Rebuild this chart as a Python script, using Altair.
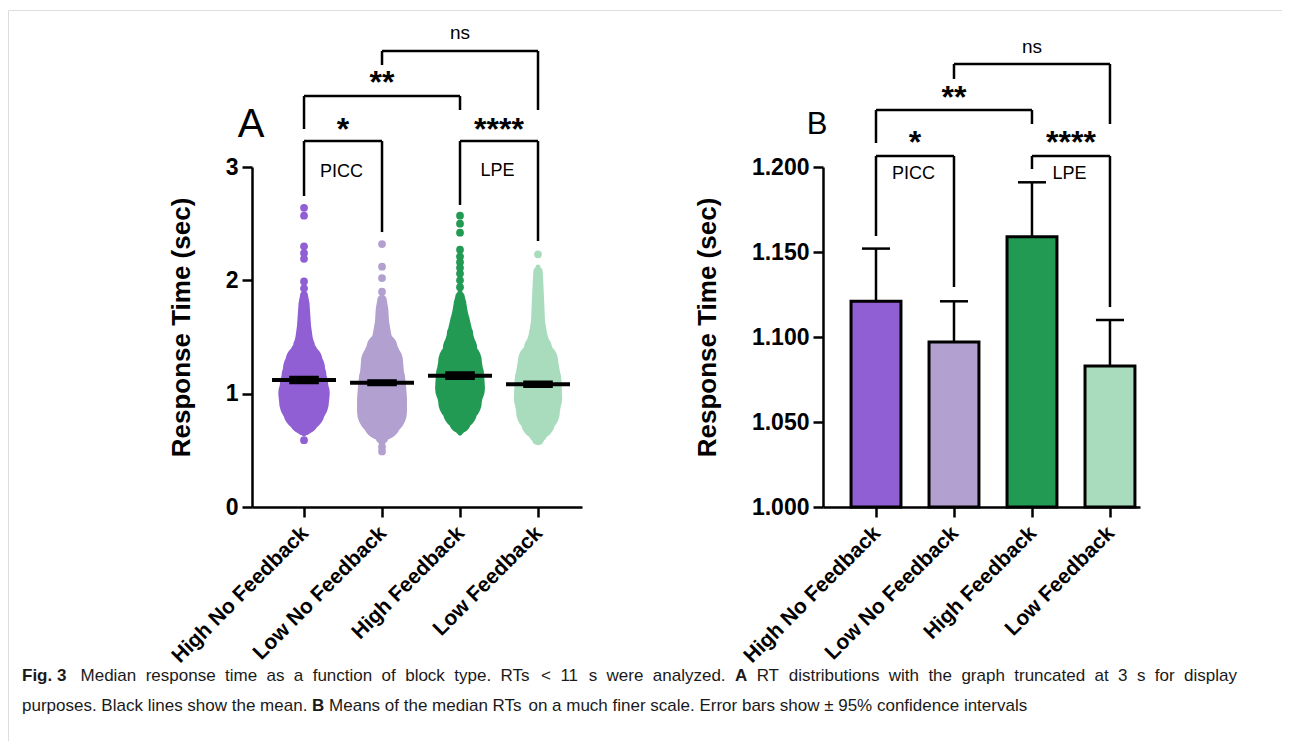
import json
import altair as alt
import pandas as pd

# ---------------- data ----------------
categories = ["High No Feedback", "Low No Feedback", "High Feedback", "Low Feedback"]
colors = ["#8F5FD3", "#B2A0D0", "#229A54", "#A8DCBC"]
means = [1.121, 1.097, 1.159, 1.083]          # mean of median RTs (s)
ci95 = [0.031, 0.024, 0.032, 0.027]            # half-width of 95% CI (s)

# beeswarm silhouettes (RT in s, half-width in category units)
prof_y = [
    [0.645, 0.67, 0.72, 0.78, 0.85, 0.93, 1.0, 1.08, 1.15, 1.22, 1.28, 1.35, 1.42, 1.50, 1.60, 1.70, 1.80, 1.87, 1.90],
    [0.56, 0.58, 0.62, 0.69, 0.76, 0.84, 0.96, 1.05, 1.12, 1.20, 1.28, 1.34, 1.40, 1.47, 1.52, 1.64, 1.75, 1.83, 1.86],
    [0.65, 0.68, 0.75, 0.84, 0.93, 1.05, 1.16, 1.28, 1.40, 1.52, 1.64, 1.72, 1.80, 1.86, 1.90],
    [0.57, 0.60, 0.66, 0.75, 0.84, 0.96, 1.12, 1.28, 1.40, 1.52, 1.64, 1.80, 1.95, 2.08, 2.12],
]
prof_w = [
    [0.03, 0.06, 0.13, 0.20, 0.27, 0.32, 0.33, 0.31, 0.29, 0.27, 0.24, 0.18, 0.14, 0.11, 0.09, 0.08, 0.07, 0.05, 0.03],
    [0.02, 0.05, 0.09, 0.15, 0.25, 0.32, 0.32, 0.31, 0.30, 0.28, 0.27, 0.23, 0.20, 0.14, 0.12, 0.09, 0.08, 0.06, 0.03],
    [0.03, 0.06, 0.14, 0.22, 0.28, 0.32, 0.31, 0.28, 0.22, 0.17, 0.13, 0.10, 0.08, 0.06, 0.03],
    [0.03, 0.08, 0.13, 0.22, 0.28, 0.31, 0.30, 0.26, 0.18, 0.12, 0.09, 0.08, 0.07, 0.06, 0.03],
]
# isolated points outside the dense part
outliers = [
    [0.59, 1.93, 1.99, 2.19, 2.24, 2.30, 2.57, 2.64],
    [0.49, 0.53, 1.90, 2.02, 2.12, 2.32],
    [1.94, 2.00, 2.06, 2.11, 2.16, 2.21, 2.27, 2.42, 2.50, 2.57],
    [2.23],
]

# significance brackets (category indices and heights in each panel's units)
br_x1 = [1, 3, 1, 2]
br_x2 = [2, 4, 3, 4]
br_A_top = [3.229, 3.229, 3.626, 4.024]
br_A_left = [2.744, 2.665, 3.335, 3.900]
br_A_right = [2.426, 2.347, 3.503, 3.503]
br_B_top = [1.2065, 1.2065, 1.2335, 1.2606]
br_B_left = [1.1594, 1.1988, 1.2141, 1.2518]
br_B_right = [1.1294, 1.1176, 1.2253, 1.2253]

sig_text = ["*", "****", "**"]
sig_x = [1.5, 3.5, 2.0]
sig_A_y = [3.353, 3.353, 3.768]
sig_B_y = [1.2159, 1.2159, 1.2424]
ns_x = [3.0]
ns_A_y = [4.182]
ns_B_y = [1.2706]
tag_text = ["PICC", "LPE"]
tag_x = [1.48, 3.48]
tag_A_y = [2.956, 2.965]
tag_B_y = [1.1959, 1.1959]

caption_l1 = [("Fig. 3", "bold"),
              ("Median response time as a function of block type. RTs < 11 s were analyzed.", "normal"),
              ("A", "bold"),
              ("RT distributions with the graph truncated at 3 s for display", "normal")]
caption_l2 = [("purposes. Black lines show the mean.", "normal"),
              ("B", "bold"),
              ("Means of the median RTs on a much finer scale. Error bars show \u00b1 95% confidence intervals", "normal")]

# ---------------- layout ----------------
W, H = 1274, 731
Y_RANGE = [497, 157]
A_X = dict(domain=[0.333, 4.564], range=[244, 574])
B_X = dict(domain=[0.3205, 4.385], range=[815, 1132])
A_Y = dict(domain=[0, 3], range=Y_RANGE)
B_Y = dict(domain=[1.0, 1.2], range=Y_RANGE)
FONT = "Liberation Sans"
PX_PER_UNIT_A = (A_X["range"][1] - A_X["range"][0]) / (A_X["domain"][1] - A_X["domain"][0])

label_expr = json.dumps(categories) + "[datum.value - 1]"

common_axis = dict(domainColor="black", domainWidth=2.5, tickColor="black", tickWidth=2.5,
                   labelColor="black", labelFont=FONT, labelFontWeight="bold",
                   titleFont=FONT, titleFontWeight="bold", titleColor="black",
                   grid=False, labelFlush=False, labelOverlap=False)


def x_axis():
    return alt.Axis(orient="bottom", offset=Y_RANGE[0] - H, values=[1, 2, 3, 4], labelExpr=label_expr,
                    labelAngle=-45, labelFontSize=21, labelPadding=5, labelOffset=-7, labelLimit=0,
                    tickSize=10, title=None, **common_axis)


def y_axis(off, vals, fmt):
    return alt.Axis(orient="left", offset=-off, values=vals, format=fmt, labelFontSize=23,
                    labelPadding=4, tickSize=10, title="Response Time (sec)", titleFontSize=26,
                    titlePadding=31, titleY=317, minExtent=0, **common_axis)


def make_enc(xs, ys, yoff, yvals, yfmt):
    sx = alt.Scale(domain=xs["domain"], range=xs["range"])
    sy = alt.Scale(domain=ys["domain"], range=ys["range"], zero=False)

    def X(f, **kw):
        return alt.X(f, type="quantitative", scale=sx, axis=x_axis(), **kw)

    def Y(f, **kw):
        return alt.Y(f, type="quantitative", scale=sy, axis=y_axis(yoff, yvals, yfmt), **kw)
    return X, Y


XA, YA = make_enc(A_X, A_Y, A_X["range"][0], [0, 1, 2, 3], "d")
XB, YB = make_enc(B_X, B_Y, B_X["range"][0], [1.0, 1.05, 1.1, 1.15, 1.2], ".3f")

# ---------------- tables ----------------
vrows = []
for i in range(4):
    for yv, w in zip(prof_y[i], prof_w[i]):
        vrows.append(dict(grp=categories[i], c=i + 1, y=yv, wpx=2 * w * PX_PER_UNIT_A, color=colors[i]))
violin = pd.DataFrame(vrows)

prow = []
for i in range(4):
    for yv in outliers[i]:
        prow.append(dict(grp=categories[i], x=i + 1, y=yv, color=colors[i]))
pts = pd.DataFrame(prow)

stats = pd.DataFrame(dict(grp=categories, c=[1, 2, 3, 4], m=means, ci=ci95, color=colors))
stats["lo_mean"] = stats.c - 0.41
stats["hi_mean"] = stats.c + 0.41
stats["lo_cap"] = stats.c - 0.18
stats["hi_cap"] = stats.c + 0.18
stats["lo_bar"] = stats.c - 0.32
stats["hi_bar"] = stats.c + 0.32
stats["ci_lo"] = stats.m - stats.ci
stats["ci_hi"] = stats.m + stats.ci
stats["base"] = B_Y["domain"][0]

brA = pd.DataFrame(dict(x1=br_x1, x2=br_x2, top=br_A_top, left=br_A_left, right=br_A_right))
brB = pd.DataFrame(dict(x1=br_x1, x2=br_x2, top=br_B_top, left=br_B_left, right=br_B_right))


def brackets(df, X, Y):
    base = alt.Chart(df)
    h = base.mark_rule(color="black", strokeWidth=2.5).encode(x=X("x1"), x2="x2", y=Y("top"))
    l = base.mark_rule(color="black", strokeWidth=2.5).encode(x=X("x1"), y=Y("left"), y2="top")
    r = base.mark_rule(color="black", strokeWidth=2.5).encode(x=X("x2"), y=Y("right"), y2="top")
    return [h, l, r]


def annotations(X, Y, sig_y, ns_y, tag_y, letter, letter_x, letter_y, letter_size):
    sig = alt.Chart(pd.DataFrame(dict(t=sig_text, x=sig_x, y=sig_y))).mark_text(
        font=FONT, fontSize=32, fontWeight="bold", baseline="alphabetic", dy=13, color="black"
    ).encode(x=X("x"), y=Y("y"), text="t:N")
    ns = alt.Chart(pd.DataFrame(dict(t=["ns"], x=ns_x, y=ns_y))).mark_text(
        font=FONT, fontSize=19, baseline="middle", color="black"
    ).encode(x=X("x"), y=Y("y"), text="t:N")
    tag = alt.Chart(pd.DataFrame(dict(t=tag_text, x=tag_x, y=tag_y))).mark_text(
        font=FONT, fontSize=18, baseline="middle", color="black"
    ).encode(x=X("x"), y=Y("y"), text="t:N")
    let = alt.Chart(pd.DataFrame(dict(t=[letter], x=[letter_x], y=[letter_y]))).mark_text(
        font=FONT, fontSize=letter_size, baseline="middle", color="black"
    ).encode(x=X("x"), y=Y("y"), text="t:N")
    return [sig, ns, tag, let]


# ---------------- panel A ----------------
swarm = alt.Chart(violin).mark_trail(opacity=1).encode(
    x=XA("c"), y=YA("y"), size=alt.Size("wpx:Q", scale=None),
    color=alt.Color("color:N", scale=None), detail="grp:N", order=alt.Order("y:Q"))
dots = alt.Chart(pts).mark_circle(size=60, opacity=1).encode(
    x=XA("x"), y=YA("y"), color=alt.Color("color:N", scale=None))
ci_box = alt.Chart(stats).mark_rect(fill="black", stroke="black", strokeWidth=1.5).encode(
    x=XA("lo_cap"), x2="hi_cap", y=YA("ci_lo"), y2="ci_hi")
mean_line = alt.Chart(stats).mark_rule(color="black", strokeWidth=4).encode(
    x=XA("lo_mean"), x2="hi_mean", y=YA("m"))

panelA = alt.layer(swarm, dots, ci_box, mean_line, *brackets(brA, XA, YA),
                   *annotations(XA, YA, sig_A_y, ns_A_y, tag_A_y, "A", 0.32, 3.37, 40))

# ---------------- panel B ----------------
bars = alt.Chart(stats).mark_bar(stroke="black", strokeWidth=3).encode(
    x=XB("lo_bar"), x2="hi_bar", y=YB("m"), y2="base", fill=alt.Fill("color:N", scale=None))
err = alt.Chart(stats).mark_rule(color="black", strokeWidth=2.5).encode(
    x=XB("c"), y=YB("m"), y2="ci_hi")
cap = alt.Chart(stats).mark_rule(color="black", strokeWidth=2.5).encode(
    x=XB("lo_cap"), x2="hi_cap", y=YB("ci_hi"))

panelB = alt.layer(err, cap, bars, *brackets(brB, XB, YB),
                   *annotations(XB, YB, sig_B_y, ns_B_y, tag_B_y, "B", 0.244, 1.2247, 31))

# ---------------- caption (justified first line, natural last line) ----------------
REG = dict(zip(" !%(),-.<\u00b1", [278, 278, 889, 333, 333, 278, 333, 278, 584, 549]))
REG.update({d: 556 for d in "0123456789"})
REG.update(dict(zip("ABCDEFGHIJKLMNOPQRSTUVWXYZ",
                    [667, 667, 722, 722, 667, 611, 778, 722, 278, 500, 667, 556, 833, 722, 778, 667,
                     778, 722, 667, 611, 722, 667, 944, 667, 667, 611])))
REG.update(dict(zip("abcdefghijklmnopqrstuvwxyz",
                    [556, 556, 500, 556, 556, 278, 556, 556, 222, 222, 500, 222, 833, 556, 556, 556,
                     556, 333, 500, 278, 556, 500, 722, 500, 500, 500])))
BOLD = dict(REG)
BOLD.update({"A": 722, "B": 722, "i": 278, "g": 611})

CAP_SIZE = 17.0
CAP_LEFT, CAP_RIGHT = 14, 1229


def text_w(t, wgt):
    tab = BOLD if wgt == "bold" else REG
    return sum(tab.get(ch, 556) for ch in t) * CAP_SIZE / 1000.0


def split_words(segs):
    out = []
    for t, wgt in segs:
        if t.startswith("Fig."):
            out.append((t, wgt))
        else:
            out.extend((w, wgt) for w in t.split(" "))
    return out


space = text_w(" ", "normal")
cap_rows = []
w1 = split_words(caption_l1)
natural = sum(text_w(t, g) for t, g in w1)
gap = max(space, (CAP_RIGHT - CAP_LEFT - natural - space) / (len(w1) - 1))
xpos = CAP_LEFT
for k, (t, g) in enumerate(w1):
    cap_rows.append(dict(t=t, w=g, px=xpos, py=666))
    xpos += text_w(t, g) + gap + (space if k == 0 else 0)
xpos = CAP_LEFT
for t, g in split_words(caption_l2):
    cap_rows.append(dict(t=t, w=g, px=xpos, py=696))
    xpos += text_w(t, g) + space
cap_df = pd.DataFrame(cap_rows)

cap_layers = []
for wgt in ["normal", "bold"]:
    cap_layers.append(alt.Chart(cap_df[cap_df.w == wgt]).mark_text(
        font=FONT, fontSize=CAP_SIZE, fontWeight=wgt, align="left", baseline="middle", color="#1a1a1a"
    ).encode(text="t:N",
             x=alt.X("px:Q", scale=None, axis=None),
             y=alt.Y("py:Q", scale=None, axis=None)))

chart = alt.layer(panelA, panelB, *cap_layers).resolve_scale(
    x="independent", y="independent"
).resolve_axis(
    x="independent", y="independent"
).properties(
    width=W, height=H,
    padding={"left": 0, "top": 2, "right": 0, "bottom": 0},
    autosize=alt.AutoSizeParams(type="none"),
).configure_view(
    stroke="#8c8c8c", strokeWidth=1.5, cornerRadius=12
).configure(font=FONT)

chart.save("out.html", embed_options={"renderer": "svg", "actions": False})
